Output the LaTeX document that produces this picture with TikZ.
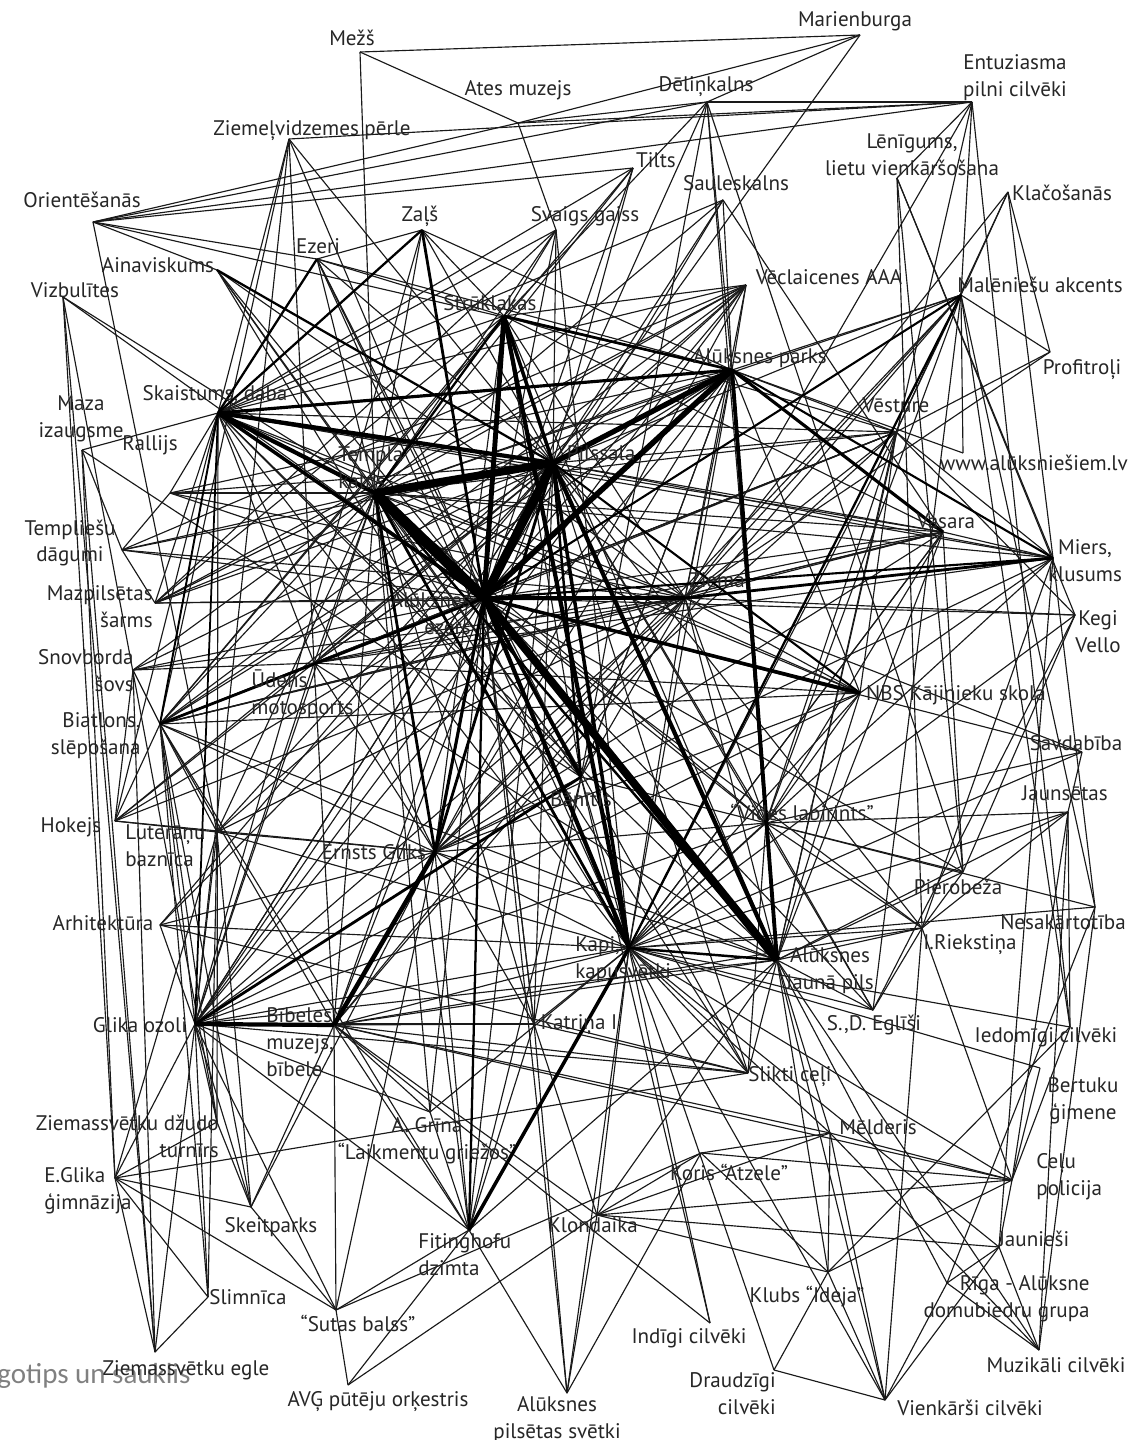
\documentclass[tikz,border=0pt]{standalone}
\usepackage{fontspec}
\setmainfont{PT Sans}
\newfontfamily\logofont{Carlito}
\usepackage{xcolor}

\begin{document}
\begin{tikzpicture}[x=0.02cm,y=-0.02cm,
  lbl/.style={font=\fontsize{12}{15.3}\selectfont,inner sep=0pt,align=center,text=black!85},
  link/.style={line width=0.65pt,black!90},
  logo/.style={font=\logofont\fontsize{16.5}{18}\selectfont,inner sep=0pt,text=black!50}]
  \useasboundingbox (0,0) rectangle (1132,1440);
  % vertices
  \foreach \n/\x/\y in {mar/860/35,mez/360/52,ate/518/123,del/707/102,ent/972/102,zvp/289/139,
    til/633/168,len/897/178,sau/723/200,kla/1008/192,ori/93/222,zal/422/230,sva/556/230,
    eze/317/259,ain/217/270,viz/63/297,vec/746/285,mal/961/295,str/504/316,pro/1050/352,
    par/732/370,ska/218/413,maz/82/450,ves/896/432,tem/375/493,pil/553/463,ral/170/493,
    tmd/122/550,www/963/453,vas/943/532,mie/1053/558,zie/685/598,mzp/155/603,alu/484/598,
    keg/1075/615,sno/133/670,ude/314/663,nbs/860/693,bia/160/724,sav/1082/752,ban/581/777,
    jau/1068/812,vid/766/823,hok/115/821,lut/217/832,ern/435/852,pie/963/872,arh/160/925,
    nes/1095/907,rie/922/928,kap/629/948,jpi/777/960,glo/195/1024,bib/334/1025,kat/534/1024,
    egl/873/1010,ied/1070/1027,sli/748/1073,ber/1040/1068,dzu/217/1122,gri/430/1112,
    mel/830/1133,cel/1012/1180,egi/115/1178,kor/701/1153,ske/251/1207,fit/469/1230,
    klo/597/1215,jni/999/1247,slm/208/1297,ide/828/1272,rig/947/1283,sut/336/1310,
    ind/710/1323,zeg/155/1352,muz/1039/1350,dra/774/1370,avg/348/1385,pis/567/1393,vie/885/1400}
    \coordinate (\n) at (\x,\y);
  % thin links
  \foreach \a/\b in {mez/mar,mez/ate,mez/tem,mar/ate,mar/del,mar/pil,
    ori/ate,ori/del,ori/ent,ori/til,ori/par,ori/lut,ori/eze,
    zvp/ska,zvp/bia,zvp/ude,zvp/alu,zvp/glo,zvp/pil,zvp/ent,
    til/tem,til/bia,til/alu,til/ska,til/pil,
    del/ent,del/ate,del/alu,del/ban,del/pie,del/vid,del/par,del/str,
    ent/mal,ent/zie,ent/jpi,ent/ied,ent/ate,ent/len,
    len/pie,len/keg,len/mie,len/rie,
    sau/vas,sau/tem,sau/ska,sau/alu,sau/pil,
    kla/mal,kla/pro,kla/ves,kla/zie,kla/mie,
    zal/eze,zal/par,zal/glo,zal/tem,zal/str,zal/pil,
    sva/mzp,sva/tem,sva/alu,sva/pil,sva/kap,sva/ska,sva/ate,
    eze/par,eze/tem,eze/alu,eze/kap,eze/str,eze/pil,eze/ban,
    ain/zie,ain/alu,ain/ban,ain/kap,ain/ori,ain/tem,
    viz/tem,viz/egi,viz/zeg,viz/dzu,viz/alu,
    maz/ska,maz/ban,maz/egi,maz/zeg,maz/tmd,
    ska/str,ska/zie,ska/vas,ska/nbs,ska/dzu,ska/mzp,ska/ern,ska/kap,ska/jpi,ska/ves,
    ska/mie,ska/ude,ska/hok,ska/ban,ska/vec,
    tem/par,tem/zie,tem/ban,tem/bib,tem/glo,tem/ral,tem/tmd,tem/mzp,tem/sno,tem/bia,
    tem/ude,tem/vas,tem/ves,tem/nbs,tem/mie,tem/vid,tem/kat,tem/fit,tem/vec,tem/mal,
    tem/lut,tem/sli,
    pil/zie,pil/vas,pil/ves,pil/mie,pil/vid,pil/mal,pil/vec,pil/sli,pil/egl,pil/rie,
    pil/fit,pil/bia,pil/ude,pil/ral,pil/tmd,pil/glo,pil/kat,
    alu/vas,alu/ves,alu/vec,alu/mzp,alu/ude,alu/glo,alu/bib,alu/kat,alu/vid,alu/sli,
    alu/egl,alu/rie,alu/pie,alu/keg,alu/tmd,alu/ral,alu/sno,alu/hok,alu/lut,alu/gri,
    alu/pis,alu/sav,alu/arh,
    par/ves,par/zie,par/kap,par/vec,par/mal,par/sau,par/ban,par/ern,par/nbs,par/www,
    par/bia,par/ude,par/mzp,par/glo,par/ral,
    str/vec,str/zie,str/ban,str/jpi,str/ern,str/ves,str/vas,str/sva,str/bia,str/mzp,
    vec/bia,vec/ude,vec/mzp,vec/ern,vec/glo,vec/tmd,vec/zie,
    mal/ern,mal/zie,mal/ves,mal/www,mal/egl,mal/nes,mal/ied,mal/vid,mal/bib,
    pro/zie,pro/mal,pro/ves,
    ves/kap,ves/nbs,ves/bia,ves/ern,ves/mie,ves/jpi,ves/ude,ves/zie,ves/vid,
    vas/mie,vas/ern,vas/zie,vas/jpi,vas/pie,vas/kap,vas/bia,vas/ude,vas/vid,
    mie/nbs,mie/rie,mie/nes,mie/jni,mie/kap,mie/ude,mie/ern,
    keg/zie,keg/ves,keg/pie,keg/egl,keg/kap,
    nbs/zie,nbs/bia,nbs/jpi,nbs/ude,nbs/kap,nbs/glo,nbs/vid,nbs/ern,
    sav/vid,sav/zie,sav/jau,sav/kap,
    jau/vid,jau/jpi,jau/rie,jau/muz,jau/cel,jau/ied,jau/kap,
    vid/rie,vid/sli,vid/egl,vid/kap,vid/ern,vid/glo,vid/zie,vid/ban,
    pie/jpi,pie/rie,pie/vid,
    nes/rig,nes/vid,nes/muz,nes/kap,
    rie/kap,rie/jpi,rie/egl,rie/cel,rie/vie,rie/bib,
    egl/jpi,egl/kap,ied/cel,ied/ide,ied/kap,ber/cel,ber/kap,
    sli/kap,sli/glo,sli/bib,sli/egi,sli/jpi,
    jpi/glo,jpi/bib,jpi/ern,jpi/ide,jpi/mel,jpi/rig,jpi/klo,jpi/vie,jpi/muz,jpi/zie,
    kap/bib,kap/glo,kap/ern,kap/kat,kap/klo,kap/mel,kap/ind,kap/dra,kap/vie,kap/cel,
    kap/jni,kap/pis,kap/ban,kap/zie,kap/vas,
    ern/glo,ern/lut,ern/bia,ern/kat,ern/fit,ern/sut,ern/ske,ern/hok,ern/arh,ern/ban,
    ern/ude,ern/zie,
    glo/kat,glo/bia,glo/lut,glo/arh,glo/egi,glo/dzu,glo/ske,glo/sut,glo/slm,glo/gri,
    glo/fit,glo/zeg,glo/ude,glo/zie,glo/pil,
    bib/kat,bib/fit,bib/sut,bib/ske,bib/gri,bib/klo,bib/mel,bib/cel,bib/ude,bib/bia,
    bib/pil,bib/zie,
    kat/klo,kat/fit,kat/ban,kat/sli,kat/pis,kat/alu,
    lut/bia,lut/hok,lut/egi,lut/ske,lut/slm,lut/kap,lut/pil,lut/zie,
    bia/hok,bia/sno,bia/ude,bia/ske,bia/slm,bia/fit,bia/jpi,bia/zie,bia/vas,
    hok/sno,hok/ude,hok/zie,hok/pil,sno/ude,sno/zeg,sno/pil,sno/zie,
    tmd/ral,tmd/mzp,tmd/zie,ral/ska,ral/zie,ude/zie,ude/jpi,ude/par,ude/ves,
    mzp/zie,mzp/pil,ban/zie,ban/par,
    arh/kap,arh/sli,arh/pil,dzu/egi,dzu/ske,dzu/bia,
    egi/ske,egi/slm,egi/sut,egi/zeg,ske/sut,
    gri/fit,gri/kap,gri/tem,
    fit/avg,fit/pis,fit/ban,fit/jpi,fit/sut,
    klo/kor,klo/mel,klo/cel,klo/ide,klo/pis,klo/jni,
    mel/ide,mel/cel,mel/kor,mel/muz,mel/vie,
    cel/ide,cel/jni,cel/kor,kor/ide,kor/pis,kor/sut,
    jni/rig,jni/muz,jni/vie,slm/zeg,ide/vie,ide/dra,
    rig/muz,rig/vie,sut/avg,ind/bib,ind/ban,dra/vie,avg/klo}
    \draw[link] (\a) -- (\b);
  % heavy links
  \foreach \a/\b/\w in {glo/ska/1,ska/bia/1.1,mal/alu/1.2,alu/mie/1.2,pil/nbs/1.2,
    par/mie/1.2,zal/ska/1.3,eze/ska/1.3,ain/pil/1.3,mal/kap/1.3,str/tem/1.3,fit/alu/1.3,
    kap/jpi/1.4,tem/jpi/1.4,pil/ban/1.4,str/par/1.5,tem/ern/1.6,pil/ern/1.6,glo/ban/1.6,
    zie/mie/1.6,bia/alu/1.6,zal/alu/1.6,tem/kap/1.6,vid/par/1.6,ska/par/1.8,alu/ern/1.8,
    par/vas/1.8,ska/alu/2,str/pil/2,pil/kap/2,kap/fit/2,alu/nbs/2,alu/ban/2,
    par/jpi/2.2,alu/zie/2.2,tem/ska/2.4,ska/pil/2.4,str/kap/2.4,pil/jpi/2.4,alu/kap/2.4,
    glo/bib/2.4,ern/bib/2.6,str/alu/2.8,pil/par/3,alu/par/3.2,tem/pil/4.5,
    alu/jpi/4.5,alu/pil/5,tem/alu/6}
    \draw[line width=\w pt,black] (\a) -- (\b);
  % labels
  \node[logo,anchor=base west] (logo) at (-3,1383) {gotips un sauklis};
  \node[lbl] (mar-t) at (855,21) {Marienburga};
  \node[lbl] (mez-t) at (352,38) {Mežš};
  \node[lbl] (ate-t) at (518,90) {Ates muzejs};
  \node[lbl] (del-t) at (706,87) {Dēliņkalns};
  \node[lbl] (ent-t) at (1015,78) {Entuziasma\\pilni cilvēki};
  \node[lbl] (zvp-t) at (312,131) {Ziemeļvidzemes pērle};
  \node[lbl] (til-t) at (656,160) {Tilts};
  \node[lbl] (len-t) at (912,155) {Lēnīgums,\\lietu vienkāršošana};
  \node[lbl] (sau-t) at (736,183) {Sauleskalns};
  \node[lbl] (kla-t) at (1062,193) {Klačošanās};
  \node[lbl] (ori-t) at (82,200) {Orientēšanās};
  \node[lbl] (zal-t) at (420,216) {Zaļš};
  \node[lbl] (sva-t) at (585,216) {Svaigs gaiss};
  \node[lbl] (eze-t) at (318,246) {Ezeri};
  \node[lbl] (ain-t) at (158,265) {Ainaviskums};
  \node[lbl] (viz-t) at (75,290) {Vizbulītes};
  \node[lbl] (vec-t) at (829,277) {Vēclaicenes AAA};
  \node[lbl] (mal-t) at (1040,285) {Malēniešu akcents};
  \node[lbl] (str-t) at (490,303) {Strūklakas};
  \node[lbl] (pro-t) at (1082,370) {Profitroļi};
  \node[lbl] (par-t) at (760,358) {Alūksnes parks};
  \node[lbl] (ska-t) at (215,395) {Skaistums, daba};
  \node[lbl] (maz-t) at (81,419) {Maza\\izaugsme};
  \node[lbl] (ves-t) at (896,405) {Vēsture};
  \node[lbl,align=left,anchor=west] (tem-t) at (338,468) {Templa\\kalns};
  \node[lbl] (pil-t) at (601,453) {Pilssala};
  \node[lbl] (ral-t) at (150,445) {Rallijs};
  \node[lbl] (tmd-t) at (70,543) {Templiešu\\dāgumi};
  \node[lbl,anchor=east] (www-t) at (1128,463) {www.alūksniešiem.lv};
  \node[lbl] (vas-t) at (946,521) {Vasara};
  \node[lbl] (mie-t) at (1085,561) {Miers,\\klusums};
  \node[lbl] (zie-t) at (717,580) {Ziema};
  \node[lbl,align=right,anchor=east] (mzp-t) at (153,607) {Mazpilsētas\\šarms};
  \node[lbl,align=right,anchor=east] (alu-t) at (471,614) {Alūksnes\\ezers};
  \node[lbl] (keg-t) at (1098,632) {Kegi\\Vello};
  \node[lbl,align=right,anchor=east] (sno-t) at (134,671) {Snovborda\\šovs};
  \node[lbl,align=left,anchor=west] (ude-t) at (251,694) {Ūdens\\motosports};
  \node[lbl] (nbs-t) at (956,695) {NBS Kājinieku skola};
  \node[lbl,align=right,anchor=east] (bia-t) at (141,736) {Biatlons,\\slēpošana};
  \node[lbl] (sav-t) at (1076,743) {Savdabība};
  \node[lbl] (ban-t) at (581,799) {Bānītis};
  \node[lbl] (jau-t) at (1065,793) {Jaunsētas};
  \node[lbl] (vid-t) at (802,812) {“Vides labirints”};
  \node[lbl] (hok-t) at (71,827) {Hokejs};
  \node[lbl,align=left,anchor=west] (lut-t) at (125,846) {Luterāņu\\baznīca};
  \node[lbl] (ern-t) at (374,852) {Ernsts Gliks};
  \node[lbl] (pie-t) at (958,887) {Pierobeža};
  \node[lbl] (arh-t) at (103,923) {Arhitektūra};
  \node[lbl] (nes-t) at (1063,922) {Nesakārtotība};
  \node[lbl] (rie-t) at (970,945) {I.Riekstiņa};
  \node[lbl,align=left,anchor=west] (kap-t) at (575,960) {Kapi,\\kapusvētki};
  \node[lbl] (jpi-t) at (830,971) {Alūksnes\\Jaunā pils};
  \node[lbl] (glo-t) at (140,1025) {Glika ozoli};
  \node[lbl,align=left,anchor=west] (bib-t) at (266,1042) {Bībeles\\muzejs,\\bībele};
  \node[lbl] (kat-t) at (579,1025) {Katriņa I};
  \node[lbl] (egl-t) at (874,1025) {S.,D. Eglīši};
  \node[lbl] (ied-t) at (1046,1037) {Iedomīgi cilvēki};
  \node[lbl] (sli-t) at (790,1077) {Slikti ceļi};
  \node[lbl] (ber-t) at (1083,1101) {Bertuku\\ģimene};
  \node[lbl,align=right,anchor=east] (dzu-t) at (219,1136) {Ziemassvētku džudo\\turnīrs};
  \node[lbl] (gri-t) at (427,1141) {A. Grīna\\“Laikmentu griežos”};
  \node[lbl] (mel-t) at (878,1127) {Mēlderis};
  \node[lbl,align=left,anchor=west] (cel-t) at (1036,1177) {Ceļu\\policija};
  \node[lbl,align=left,anchor=west] (egi-t) at (44,1191) {E.Glika\\ģimnāzija};
  \node[lbl] (kor-t) at (729,1172) {Koris “Atzele”};
  \node[lbl] (ske-t) at (271,1227) {Skeitparks};
  \node[lbl,align=left,anchor=west] (fit-t) at (418,1255) {Fitinghofu\\dzimta};
  \node[lbl] (klo-t) at (593,1225) {Klondaika};
  \node[lbl] (jni-t) at (1034,1239) {Jaunieši};
  \node[lbl] (slm-t) at (248,1297) {Slimnīca};
  \node[lbl] (ide-t) at (807,1297) {Klubs “Ideja”};
  \node[lbl,align=right,anchor=east] (rig-t) at (1090,1299) {Rīga - Alūksne\\domubiedru grupa};
  \node[lbl] (sut-t) at (358,1323) {“Sutas balss”};
  \node[lbl] (ind-t) at (689,1338) {Indīgi cilvēki};
  \node[lbl] (zeg-t) at (186,1370) {Ziemassvētku egle};
  \node[lbl] (muz-t) at (1056,1365) {Muzikāli cilvēki};
  \node[lbl,align=right,anchor=east] (dra-t) at (776,1394) {Draudzīgi\\cilvēki};
  \node[lbl] (avg-t) at (378,1402) {AVĢ pūtēju orķestris};
  \node[lbl] (pis-t) at (557,1420) {Alūksnes\\pilsētas svētki};
  \node[lbl] (vie-t) at (970,1408) {Vienkārši cilvēki};
\end{tikzpicture}
\end{document}
